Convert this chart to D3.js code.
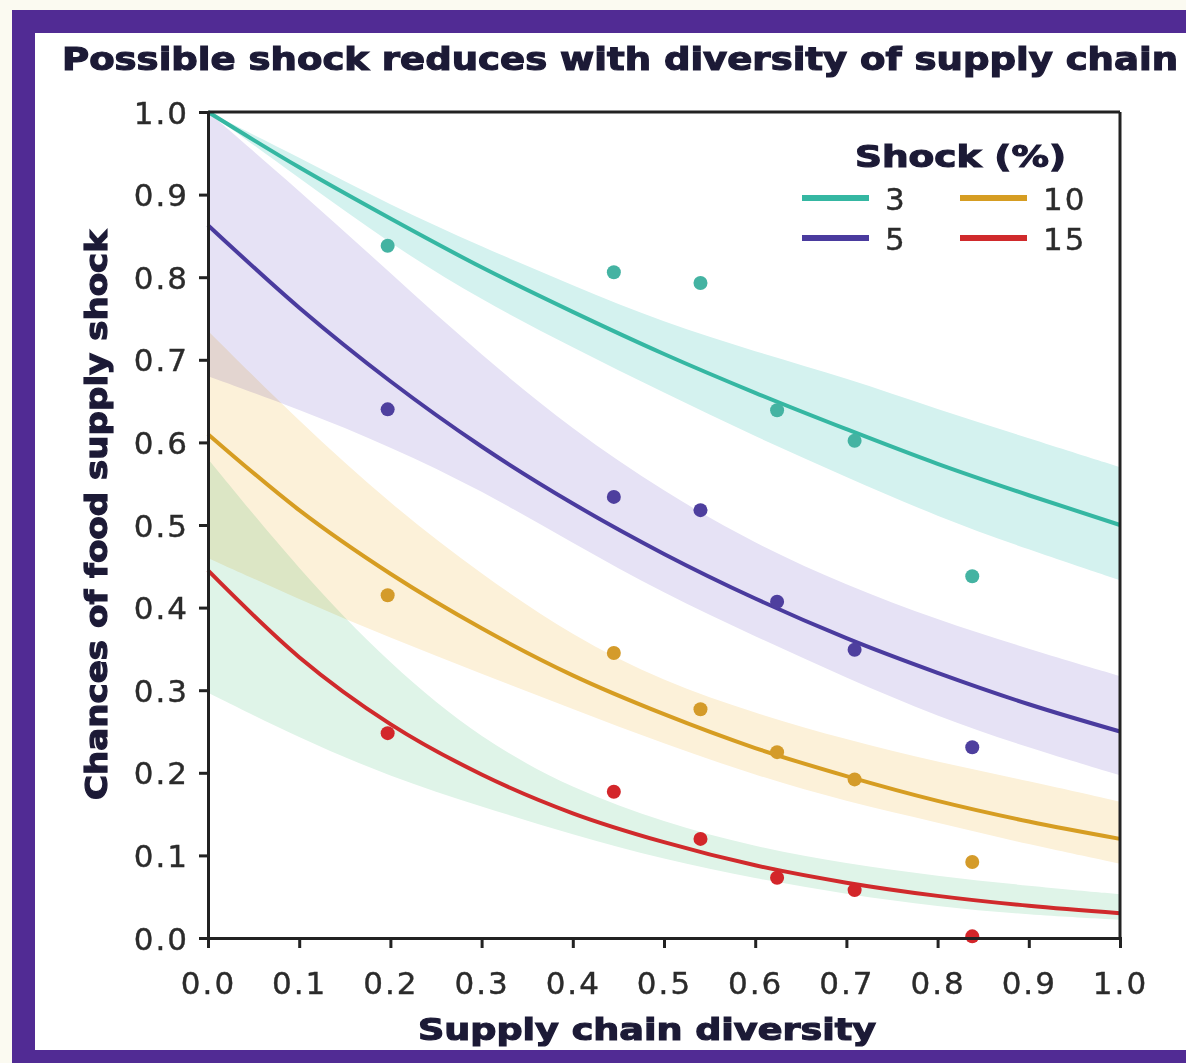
<!DOCTYPE html>
<html>
<head>
<meta charset="utf-8">
<script src="https://cdn.jsdelivr.net/npm/d3@7"></script>
<style>
  body { margin: 0; background: #fbfaf1; }
  svg { display: block; }
  text { font-family: "DejaVu Sans", sans-serif; }
</style>
</head>
<body>
<svg width="1186" height="1063"></svg>
<script>
// Values

// x positions of the fitted curves and bands
const gridX = [0, 0.1, 0.2, 0.3, 0.4, 0.5, 0.6, 0.7, 0.8, 0.9, 1.0];

// fitted curves, one per shock size
const fit3 = [1.0, 0.933, 0.871, 0.812, 0.758, 0.707, 0.660, 0.616, 0.574, 0.536, 0.500];
const fit5 = [0.863, 0.763, 0.674, 0.595, 0.526, 0.465, 0.411, 0.363, 0.321, 0.283, 0.250];
const fit10 = [0.610, 0.518, 0.441, 0.375, 0.318, 0.271, 0.230, 0.196, 0.166, 0.141, 0.120];
const fit15 = [0.445, 0.340, 0.259, 0.198, 0.151, 0.116, 0.088, 0.067, 0.051, 0.039, 0.030];

// confidence bands (upper / lower)
const hi3 = [1.0, 0.945, 0.887, 0.837, 0.79, 0.745, 0.71, 0.678, 0.64, 0.605, 0.57];
const lo3 = [1.0, 0.92, 0.84, 0.772, 0.715, 0.66, 0.607, 0.558, 0.51, 0.47, 0.433];
const hi5 = [1.0, 0.905, 0.805, 0.705, 0.615, 0.54, 0.477, 0.427, 0.385, 0.35, 0.317];
const lo5 = [0.68, 0.64, 0.595, 0.542, 0.478, 0.417, 0.365, 0.315, 0.268, 0.23, 0.197];
const hi10 = [0.735, 0.625, 0.525, 0.44, 0.365, 0.31, 0.272, 0.24, 0.213, 0.19, 0.165];
const lo10 = [0.46, 0.41, 0.363, 0.32, 0.277, 0.235, 0.197, 0.165, 0.14, 0.113, 0.09];
const hi15 = [0.58, 0.445, 0.33, 0.24, 0.18, 0.14, 0.11, 0.09, 0.075, 0.063, 0.053];
const lo15 = [0.297, 0.242, 0.195, 0.159, 0.125, 0.095, 0.072, 0.053, 0.038, 0.028, 0.022];

// observed points
const pointX = [0.197, 0.445, 0.540, 0.624, 0.709, 0.838];
const pts3 = [0.838, 0.806, 0.793, 0.639, 0.602, 0.438];
const pts5 = [0.640, 0.534, 0.518, 0.407, 0.349, 0.231];
const pts10 = [0.415, 0.345, 0.277, 0.225, 0.192, 0.092];
const pts15 = [0.248, 0.177, 0.120, 0.073, 0.058, 0.002];

const shockLabels = ['3', '5', '10', '15'];
const lineColors = ['#35b7a2', '#4a3b9e', '#d69d22', '#d02a2c'];
const bandColors = ['#d4f2ef', '#e6e2f5', '#fcf1d9', '#dff4e8'];
const pointColors = ['#44b3a2', '#4e3f9e', '#d49b2a', '#d3262a'];

const yTicks = [0, 0.1, 0.2, 0.3, 0.4, 0.5, 0.6, 0.7, 0.8, 0.9, 1.0];

const series = [
	{ fit: fit3, hi: hi3, lo: lo3, pts: pts3 },
	{ fit: fit5, hi: hi5, lo: lo5, pts: pts5 },
	{ fit: fit10, hi: hi10, lo: lo10, pts: pts10 },
	{ fit: fit15, hi: hi15, lo: lo15, pts: pts15 },
];

const svg = d3.select('svg');

// purple frame and white panel
svg.append('rect').attr('x', 12).attr('y', 10).attr('width', 1200).attr('height', 1070).attr('fill', '#512b94');
svg.append('rect').attr('x', 35).attr('y', 33).attr('width', 1180).attr('height', 1017).attr('fill', '#ffffff');

const x = d3.scaleLinear().domain([0, 1]).range([208, 1120]);
const y = d3.scaleLinear().domain([0, 1]).range([938, 112]);

const plot = svg.append('g');

// bands
const area = d3.area()
	.x((d, i) => x(gridX[i]))
	.y0((d) => y(d[1]))
	.y1((d) => y(d[0]))
	.curve(d3.curveBasis);

series.forEach((s, k) => {
	plot.append('path')
		.datum(s.hi.map((h, i) => [h, s.lo[i]]))
		.attr('d', area)
		.attr('fill', bandColors[k])
		.style('mix-blend-mode', 'multiply');
});

// fitted curves
const line = d3.line()
	.x((d, i) => x(gridX[i]))
	.y((d) => y(d))
	.curve(d3.curveMonotoneX);

series.forEach((s, k) => {
	plot.append('path')
		.datum(s.fit)
		.attr('d', line)
		.attr('fill', 'none')
		.attr('stroke', lineColors[k])
		.attr('stroke-width', 4);
});

// points
series.forEach((s, k) => {
	plot.append('g')
		.selectAll('circle')
		.data(s.pts)
		.join('circle')
		.attr('cx', (d, i) => x(pointX[i]))
		.attr('cy', (d) => y(d))
		.attr('r', 7)
		.attr('fill', pointColors[k]);
});

// axes
const fmt = d3.format('.1f');
const xAxis = svg.append('g')
	.attr('transform', `translate(0,${y(0)})`)
	.call(d3.axisBottom(x).tickValues(yTicks).tickFormat(fmt).tickSize(10).tickPadding(24));
const yAxis = svg.append('g')
	.attr('transform', `translate(${x(0)},0)`)
	.call(d3.axisLeft(y).tickValues(yTicks).tickFormat(fmt).tickSize(9).tickPadding(10));

[xAxis, yAxis].forEach((ax) => {
	ax.select('.domain').attr('stroke', '#222').attr('stroke-width', 3);
	ax.selectAll('.tick line').attr('stroke', '#222').attr('stroke-width', 3);
	ax.selectAll('.tick text')
		.attr('fill', '#2b2b2b')
		.attr('stroke', '#2b2b2b').attr('stroke-width', 0.4)
		.style('font-size', '31px')
		.style('letter-spacing', '2px')
		.style('font-family', '"DejaVu Sans", sans-serif');
});
yAxis.selectAll('.tick text').attr('dy', '0.36em');

// top and right frame of the plot box
svg.append('line').attr('x1', x(0)).attr('x2', x(1)).attr('y1', y(1)).attr('y2', y(1))
	.attr('stroke', '#222').attr('stroke-width', 3);
svg.append('line').attr('x1', x(1)).attr('x2', x(1)).attr('y1', y(1)).attr('y2', y(0))
	.attr('stroke', '#222').attr('stroke-width', 3);

// bold titles get a thin stroke to look heavier
function heavy(sel) {
	return sel.style('font-weight', 'bold')
		.attr('fill', '#1c1a36')
		.attr('stroke', '#1c1a36')
		.attr('stroke-width', 1.2);
}

// title
svg.append('text')
	.attr('x', 62).attr('y', 70)
	.attr('textLength', 1116).attr('lengthAdjust', 'spacingAndGlyphs')
	.style('font-size', '32px')
	.call(heavy)
	.text('Possible shock reduces with diversity of supply chain');

// axis titles
svg.append('text')
	.attr('x', 647).attr('y', 1040)
	.attr('text-anchor', 'middle')
	.attr('textLength', 458).attr('lengthAdjust', 'spacingAndGlyphs')
	.style('font-size', '31px')
	.call(heavy)
	.text('Supply chain diversity');

svg.append('text')
	.attr('transform', 'translate(107,515) rotate(-90)')
	.attr('text-anchor', 'middle')
	.attr('textLength', 570).attr('lengthAdjust', 'spacingAndGlyphs')
	.style('font-size', '30px')
	.call(heavy)
	.text('Chances of food supply shock');

// legend
const legend = svg.append('g');
legend.append('text')
	.attr('x', 855).attr('y', 167)
	.attr('textLength', 211).attr('lengthAdjust', 'spacingAndGlyphs')
	.style('font-size', '31px')
	.call(heavy)
	.text('Shock (%)');

shockLabels.forEach((lab, k) => {
	const col = Math.floor(k / 2);
	const row = k % 2;
	const lx = 802 + col * 158;
	const ly = 198 + row * 40;
	legend.append('line')
		.attr('x1', lx).attr('x2', lx + 67)
		.attr('y1', ly).attr('y2', ly)
		.attr('stroke', lineColors[k]).attr('stroke-width', 6);
	legend.append('text')
		.attr('x', lx + 83).attr('y', ly + 12)
		.style('font-size', '31px')
		.style('letter-spacing', '2px')
		.attr('fill', '#2b2b2b')
		.attr('stroke', '#2b2b2b').attr('stroke-width', 0.4)
		.text(lab);
});
</script>
</body>
</html>
